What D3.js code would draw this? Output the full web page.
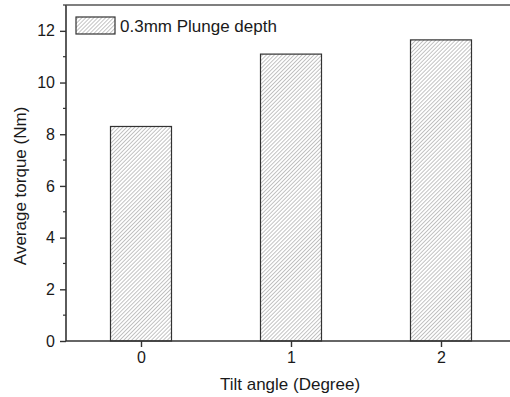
<!DOCTYPE html>
<html>
<head>
<meta charset="utf-8">
<script src="https://cdn.jsdelivr.net/npm/d3@7"></script>
<style>
  body { margin: 0; background: #fff; }
  text { font-family: "Liberation Sans", Arial, sans-serif; fill: #1a1a1a; }
</style>
</head>
<body>
<div id="chart"></div>
<script>
const width = 510;
const height = 397;

// data
const tiltAngles = [0, 1, 2];
const avgTorque = [8.3, 11.1, 11.65];
const yTicks = [0, 2, 4, 6, 8, 10, 12];
const yMinorTicks = [1, 3, 5, 7, 9, 11, 13];
const seriesName = "0.3mm Plunge depth";

const margin = { left: 66, top: 5, right: -6, bottom: 56 };

const svg = d3.select("#chart")
    .append("svg")
    .attr("width", width)
    .attr("height", height);

// diagonal hatch fill
const defs = svg.append("defs");
const pat = defs.append("pattern")
    .attr("id", "hatch")
    .attr("patternUnits", "userSpaceOnUse")
    .attr("width", 2.8)
    .attr("height", 2.8)
    .attr("patternTransform", "rotate(45)");
pat.append("line")
    .attr("x1", 0).attr("y1", 0)
    .attr("x2", 0).attr("y2", 2.8)
    .attr("stroke", "#7a7a7a")
    .attr("stroke-width", 0.9);

const x = d3.scaleLinear()
    .domain([-0.5, 2.5])
    .range([margin.left, width - margin.right]);

const y = d3.scaleLinear()
    .domain([0, 13])
    .range([height - margin.bottom, margin.top]);

const barW = 61;

// bars
svg.append("g")
    .selectAll("rect")
    .data(tiltAngles)
    .join("rect")
    .attr("x", (d) => x(d) - barW / 2)
    .attr("y", (d, i) => y(avgTorque[i]))
    .attr("width", barW)
    .attr("height", (d, i) => y(0) - y(avgTorque[i]))
    .attr("fill", "url(#hatch)")
    .attr("stroke", "#333")
    .attr("stroke-width", 1.2);

// frame lines (left, bottom, top)
const axisColor = "#333";
svg.append("line")
    .attr("x1", x(-0.5)).attr("x2", x(-0.5))
    .attr("y1", y(0)).attr("y2", y(13))
    .attr("stroke", axisColor).attr("stroke-width", 1.6);
svg.append("line")
    .attr("x1", x(-0.5)).attr("x2", width)
    .attr("y1", y(0)).attr("y2", y(0))
    .attr("stroke", axisColor).attr("stroke-width", 1.6);
svg.append("line")
    .attr("x1", x(-0.5)).attr("x2", width)
    .attr("y1", y(13)).attr("y2", y(13))
    .attr("stroke", "#555").attr("stroke-width", 1.6);

// y axis
const yAxis = svg.append("g")
    .attr("transform", `translate(${x(-0.5)},0)`)
    .call(d3.axisLeft(y).tickValues(yTicks).tickSize(6).tickPadding(5).tickFormat(d3.format("d")));
yAxis.select(".domain").remove();
yAxis.selectAll("line").attr("stroke", axisColor).attr("stroke-width", 1.4);
yAxis.selectAll("text").style("font-size", "16px").attr("fill", "#1a1a1a");

svg.append("g")
    .selectAll("line")
    .data(yMinorTicks)
    .join("line")
    .attr("x1", x(-0.5) - 3).attr("x2", x(-0.5))
    .attr("y1", (d) => y(d)).attr("y2", (d) => y(d))
    .attr("stroke", axisColor).attr("stroke-width", 1.2);

// x axis
const xAxis = svg.append("g")
    .attr("transform", `translate(0,${y(0)})`)
    .call(d3.axisBottom(x).tickValues(tiltAngles).tickSize(6).tickPadding(5).tickFormat(d3.format("d")));
xAxis.select(".domain").remove();
xAxis.selectAll("line").attr("stroke", axisColor).attr("stroke-width", 1.4);
xAxis.selectAll("text").style("font-size", "16px").attr("fill", "#1a1a1a");

// axis titles
svg.append("text")
    .attr("x", x(1) - 1)
    .attr("y", 390)
    .attr("text-anchor", "middle")
    .style("font-size", "17px")
    .text("Tilt angle (Degree)");

svg.append("text")
    .attr("transform", `translate(26,${y(6.0)}) rotate(-90)`)
    .attr("text-anchor", "middle")
    .style("font-size", "17px")
    .text("Average torque (Nm)");

// legend
svg.append("rect")
    .attr("x", 76).attr("y", 17)
    .attr("width", 39).attr("height", 17)
    .attr("fill", "url(#hatch)")
    .attr("stroke", "#333")
    .attr("stroke-width", 1.2);
svg.append("text")
    .attr("x", 120)
    .attr("y", 32)
    .style("font-size", "17px")
    .text(seriesName);
</script>
</body>
</html>
